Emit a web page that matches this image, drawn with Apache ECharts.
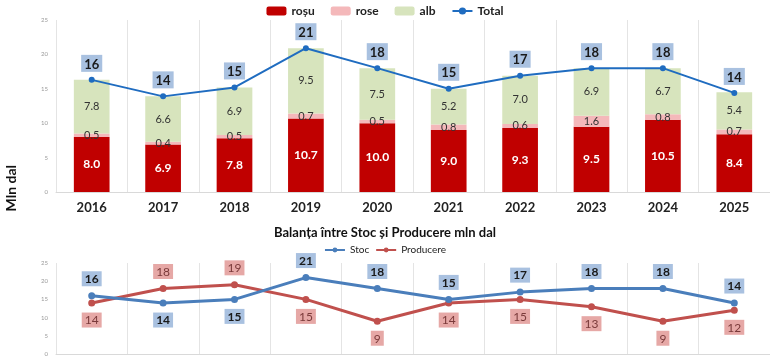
<!DOCTYPE html>
<html><head><meta charset="utf-8">
<script src="https://cdn.jsdelivr.net/npm/echarts@6/dist/echarts.min.js"></script>
<style>html,body{margin:0;padding:0;background:#fff}#c{width:770px;height:360px}</style>
</head><body><div id="c"></div>
<script>
const years = ['2016','2017','2018','2019','2020','2021','2022','2023','2024','2025'];
const rosu = [8.0, 6.9, 7.8, 10.7, 10.0, 9.0, 9.3, 9.5, 10.5, 8.4];
const rose = [0.5, 0.4, 0.5, 0.7, 0.5, 0.8, 0.6, 1.6, 0.8, 0.7];
const alb = [7.8, 6.6, 6.9, 9.5, 7.5, 5.2, 7.0, 6.9, 6.7, 5.4];
const total = [16.3, 13.9, 15.2, 20.9, 18.0, 15.0, 16.9, 18.0, 18.0, 14.4];
const stoc = [16, 14, 15, 21, 18, 15, 17, 18, 18, 14];
const producere = [14, 18, 19, 15, 9, 14, 15, 13, 9, 12];
const yTicks = [0, 5, 10, 15, 20, 25];

const FONT = 'Lato, "Open Sans", sans-serif';
const chart = echarts.init(document.getElementById('c'));
const stocData = stoc.map((v, i) => ({value: v, label: {position: v >= producere[i] ? 'top' : 'bottom'}}));
const prodData = producere.map((v, i) => ({value: v, label: {position: v > stoc[i] ? 'top' : 'bottom'}}));

const yAxisCommon = {
  type: 'value', min: yTicks[0], max: yTicks[yTicks.length - 1], interval: 5,
  axisLabel: {fontSize: 6, color: '#9a9a9a', fontFamily: FONT, margin: 8},
  axisLine: {show: false}, axisTick: {show: false}, splitLine: {show: false}
};
const xAxisCommon = {
  type: 'category', data: years,
  axisLine: {show: true, lineStyle: {color: '#d9d9d9'}},
  axisTick: {show: false},
  splitLine: {show: true, lineStyle: {color: '#e4e4e4'}}
};

chart.setOption({
  animation: false,
  textStyle: {fontFamily: FONT},
  graphic: [{
    type: 'text', left: 4, top: 165, rotation: Math.PI / 2,
    style: {text: 'Mln dal', font: 'bold 14px ' + FONT, fill: '#111'}
  }, {
    type: 'text', left: 'center', top: 226,
    style: {text: 'Balanța între Stoc și Producere mln dal', font: 'bold 13px ' + FONT, fill: '#111'}
  }],
  legend: [{
    data: ['roșu', 'rose', 'alb', 'Total'], top: 0, left: 'center',
    itemWidth: 20, itemHeight: 9, itemGap: 16,
    textStyle: {fontSize: 12, fontWeight: 'bold', color: '#222', fontFamily: FONT}
  }, {
    data: ['Stoc', 'Producere'], top: 240, left: 'center',
    itemWidth: 20, itemHeight: 6, itemGap: 6,
    textStyle: {fontSize: 10, color: '#222', fontFamily: FONT}
  }],
  grid: [
    {left: 56, right: -5, top: 20, height: 172},
    {left: 56, right: -5, top: 263, height: 91}
  ],
  xAxis: [
    Object.assign({}, xAxisCommon, {gridIndex: 0,
      axisLabel: {fontSize: 13, fontWeight: 'bold', color: '#222', margin: 9, fontFamily: FONT}}),
    Object.assign({}, xAxisCommon, {gridIndex: 1, axisLabel: {show: false}})
  ],
  yAxis: [
    Object.assign({}, yAxisCommon, {gridIndex: 0}),
    Object.assign({}, yAxisCommon, {gridIndex: 1})
  ],
  series: [
    {name: 'roșu', type: 'bar', stack: 'v', data: rosu, barWidth: '50%',
      itemStyle: {color: '#c00000'},
      label: {show: true, position: 'inside', color: '#fff', fontWeight: 'bold', fontSize: 12,
        formatter: p => p.value.toFixed(1)}},
    {name: 'rose', type: 'bar', stack: 'v', data: rose,
      itemStyle: {color: '#f4b8ba'},
      label: {show: true, position: 'inside', color: '#333', fontSize: 11,
        formatter: p => p.value.toFixed(1)}},
    {name: 'alb', type: 'bar', stack: 'v', data: alb,
      itemStyle: {color: '#d7e4bd'},
      label: {show: true, position: 'inside', color: '#333', fontSize: 11,
        formatter: p => p.value.toFixed(1)}},
    {name: 'Total', type: 'line', data: total, symbol: 'circle', symbolSize: 6,
      itemStyle: {color: '#1f6cc0'}, lineStyle: {color: '#1f6cc0', width: 2}, z: 5,
      label: {show: true, position: 'top', distance: 5, fontSize: 13, fontWeight: 'bold', color: '#1a1a1a',
        backgroundColor: '#a9c1e0', padding: [3, 3, 1, 3],
        formatter: p => String(Math.round(p.value))}},
    {name: 'Stoc', type: 'line', xAxisIndex: 1, yAxisIndex: 1, data: stocData,
      symbol: 'circle', symbolSize: 7,
      itemStyle: {color: '#4a7ebb'}, lineStyle: {color: '#4a7ebb', width: 3}, z: 5,
      label: {show: true, distance: 6, fontSize: 12, fontWeight: 'bold', color: '#1a1a1a',
        backgroundColor: '#a9c1e0', padding: [2, 3, 1, 3]}},
    {name: 'Producere', type: 'line', xAxisIndex: 1, yAxisIndex: 1, data: prodData,
      symbol: 'circle', symbolSize: 7,
      itemStyle: {color: '#c0504d'}, lineStyle: {color: '#c0504d', width: 3}, z: 4,
      label: {show: true, distance: 6, fontSize: 12, color: '#7a3a3a',
        backgroundColor: '#e6a8a6', padding: [2, 3, 1, 3]}}
  ]
});
</script></body></html>
